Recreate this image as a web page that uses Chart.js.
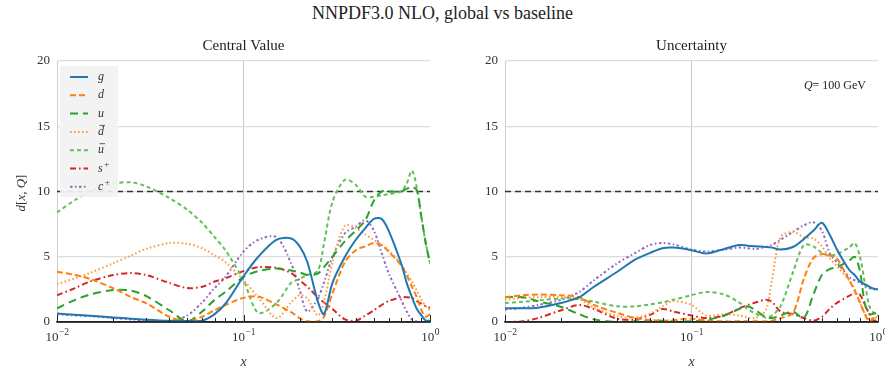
<!DOCTYPE html>
<html>
<head>
<meta charset="utf-8">
<script src="https://cdn.jsdelivr.net/npm/chart.js@4.4.1/dist/chart.umd.min.js"></script>
<style>
  html, body { margin: 0; padding: 0; background: #fff; }
  #wrap { position: relative; width: 885px; height: 374px; overflow: hidden; }
  #title { position: absolute; left: 0; top: 0; width: 885px; text-align: center;
           font: 18px "Liberation Serif", serif; color: #222; line-height: 26px; }
  canvas { position: absolute; top: 30px; }
  #cvL { left: 0; }
  #cvR { left: 445px; }
</style>
</head>
<body>
<div id="wrap">
  <div id="title">NNPDF3.0 NLO, global vs baseline</div>
  <canvas id="cvL" width="445" height="344"></canvas>
  <canvas id="cvR" width="440" height="344"></canvas>
</div>
<script>
// x grid shared by every curve
const X = [0.01, 0.0125, 0.015, 0.02, 0.025, 0.03, 0.04, 0.05, 0.06, 0.07, 0.08, 0.1, 0.12, 0.15, 0.18,
           0.2, 0.22, 0.25, 0.27, 0.3, 0.35, 0.4, 0.45, 0.5, 0.55, 0.6, 0.7, 0.75, 0.8, 0.85, 0.9, 0.95, 1.0];

// legend names; "bar" flavours get an overline
const FLAVOURS = ['g', 'd', 'u', 'd', 'u', 's', 'c'];
const FLAV_BAR = [false, false, false, true, true, false, false];
const FLAV_SUP = ['', '', '', '', '', '+', '+'];

// Central value distances
const cvG    = [0.65,0.55,0.48,0.35,0.25,0.18,0.1,0.08,0.1,0.6,1.4,3.5,5.0,6.3,6.4,5.8,4.6,1.6,0.6,3.0,5.0,6.3,7.2,7.9,7.9,7.0,4.5,3.0,1.9,1.0,0.5,0.1,0.1];
const cvD    = [3.85,3.6,3.3,2.6,1.9,1.45,0.4,0.05,0.4,0.9,1.3,1.85,1.95,1.35,0.75,0.3,0.05,0.05,0.4,2.2,4.6,5.5,5.8,6.05,5.9,5.4,4.35,3.6,2.7,1.9,0.9,0.4,0.6];
const cvU    = [1.05,1.7,2.1,2.45,2.4,2.0,0.9,0.05,0.8,1.7,2.3,3.45,3.9,4.1,3.95,3.8,3.6,3.7,4.2,5.0,6.2,7.0,7.8,9.3,10.0,10.0,10.0,10.2,10.35,10.1,8.0,6.0,4.5];
const cvDbar = [2.9,3.35,3.75,4.5,5.1,5.6,6.05,6.0,5.65,5.1,4.6,3.2,1.9,0.3,1.5,2.05,1.8,0.5,1.5,4.6,7.4,7.2,6.7,6.3,5.9,5.5,4.4,3.7,3.1,2.4,1.7,1.2,0.9];
const cvUbar = [8.4,9.35,10.0,10.6,10.7,10.4,9.5,8.6,7.6,6.5,5.5,3.2,0.7,1.45,3.0,3.3,3.6,3.9,6.0,9.2,10.9,10.5,9.6,9.6,9.7,9.8,10.0,10.6,11.6,10.3,8.0,6.0,4.5];
const cvS    = [2.05,2.6,3.1,3.6,3.75,3.6,3.0,2.6,2.7,3.1,3.35,3.9,4.2,4.15,3.75,3.2,2.7,1.9,1.5,1.0,0.2,0.1,0.5,0.9,1.3,1.6,1.9,1.9,1.85,1.6,1.4,1.2,1.1];
const cvC    = [0.6,0.5,0.45,0.3,0.2,0.1,0.05,0.5,1.5,2.6,3.45,5.4,6.3,6.5,4.5,2.45,0.8,1.8,3.0,5.0,6.8,7.3,7.8,7.0,5.3,3.75,1.7,0.8,0.2,0.05,0,0,0];

// Uncertainty distances
const unG    = [1.05,1.05,1.1,1.45,1.9,2.7,3.85,4.8,5.3,5.65,5.7,5.5,5.25,5.6,5.9,5.85,5.8,5.75,5.7,5.55,5.75,6.35,7.0,7.6,6.7,5.6,4.0,3.6,3.1,2.9,2.7,2.55,2.5];
const unD    = [1.9,2.05,2.1,2.05,1.9,1.3,0.7,0.3,0.15,0.1,0.15,0.25,0.1,0.05,0.05,0.05,0.05,0.05,0.1,0.3,0.7,3.3,4.9,5.2,5.1,4.9,3.2,2.4,1.5,0.6,0.05,0.3,0.5];
const unU    = [1.9,1.9,1.6,1.15,0.6,0.2,0.0,0.05,0.1,0.1,0.05,0.05,0.15,0.5,1.0,1.2,0.9,0.4,0.3,0.5,0.8,0.3,2.1,3.6,4.05,4.2,4.7,5.0,3.9,1.4,0.6,0.65,0.7];
const unDbar = [1.7,1.85,1.9,1.9,1.75,1.1,0.45,0.35,0.65,1.2,1.6,1.3,0.5,0.6,0.5,0.35,0.3,0.9,3.2,6.5,6.9,6.5,6.4,5.8,4.9,4.3,3.2,2.5,1.5,0.65,0.2,0.3,0.4];
const unUbar = [1.45,1.55,1.65,1.8,1.75,1.55,1.2,1.2,1.35,1.5,1.7,2.05,2.3,2.1,1.5,1.0,0.65,0.35,0.5,1.2,3.8,5.9,5.8,5.3,5.1,5.2,5.7,6.05,5.0,3.0,1.2,0.7,0.7];
const unS    = [0,0.05,0.3,0.9,1.3,1.0,0.25,0.2,0.55,1.0,0.8,0.5,0.3,0.5,1.05,1.3,1.5,1.7,1.55,0.8,0.6,0.3,0.1,0.4,1.0,1.45,2.0,2.2,2.1,1.3,0.6,0.1,0.2];
const unC    = [0.95,1.1,1.3,1.7,2.3,3.2,4.5,5.3,5.9,6.05,5.95,5.55,5.4,5.55,5.7,5.65,5.6,5.75,5.9,6.3,6.9,7.4,7.65,7.0,5.3,4.6,3.45,3.2,3.0,2.8,2.6,2.5,2.5];

const REF_LEVEL = 10;
const X_MAJOR = [0.01, 0.1, 1];
const X_MAJOR_EXP = ['−2', '−1', '0'];
const Y_TICKS_STEP = 5;

const SERIF = '"Liberation Serif", "DejaVu Serif", serif';
const STYLES = [
  { color: '#1f77b4', dash: [] },
  { color: '#ff7f0e', dash: [6, 3] },
  { color: '#2ca02c', dash: [8, 5] },
  { color: '#ff9a40', dash: [1.6, 2.4] },
  { color: '#64bf5a', dash: [4, 3] },
  { color: '#d62728', dash: [6, 3, 1.6, 3] },
  { color: '#9467bd', dash: [2.5, 2.5, 1.5, 2.5] }
];

function toPts(vals) {
  return X.map((x, i) => ({ x: x, y: vals[i] }));
}

function buildDatasets(series) {
  const ds = series.map((vals, i) => ({
    label: FLAVOURS[i],
    flavIdx: i,
    data: toPts(vals),
    borderColor: STYLES[i].color,
    borderDash: STYLES[i].dash,
    borderWidth: 2,
    pointRadius: 0,
    fill: false,
    tension: 0.3
  }));
  ds.push({
    label: 'ref',
    isRef: true,
    data: [{ x: X[0], y: REF_LEVEL }, { x: X[X.length - 1], y: REF_LEVEL }],
    borderColor: '#333',
    borderDash: [6, 4],
    borderWidth: 1.3,
    pointRadius: 0,
    order: 10
  });
  return ds;
}

// draw text made of [string, italic] pieces starting at x
function drawParts(ctx, parts, x, y, size) {
  let cx = x;
  parts.forEach(([s, it]) => {
    ctx.font = (it ? 'italic ' : '') + size + 'px ' + SERIF;
    ctx.fillText(s, cx, y);
    cx += ctx.measureText(s).width;
  });
}
function partsWidth(ctx, parts, size) {
  let w = 0;
  parts.forEach(([s, it]) => {
    ctx.font = (it ? 'italic ' : '') + size + 'px ' + SERIF;
    w += ctx.measureText(s).width;
  });
  return w;
}

const decor = {
  id: 'decor',
  afterDatasetsDraw(chart, args, opts) {
    if (!opts.legend) return;
    const ctx = chart.ctx;
    ctx.save();
    ctx.fillStyle = 'rgba(242,242,242,0.92)';
    ctx.fillRect(60, 36, 58, 131);
    chart.data.datasets.forEach((d, i) => {
      if (d.isRef) return;
      const y = 47 + i * 18.3;
      ctx.beginPath();
      ctx.setLineDash(d.borderDash);
      ctx.strokeStyle = d.borderColor;
      ctx.lineWidth = 2;
      ctx.moveTo(70, y);
      ctx.lineTo(88, y);
      ctx.stroke();
      ctx.setLineDash([]);
      ctx.fillStyle = '#333';
      ctx.font = 'italic 12px ' + SERIF;
      ctx.textAlign = 'left';
      ctx.textBaseline = 'middle';
      ctx.fillText(d.label, 98, y);
      const w = ctx.measureText(d.label).width;
      if (FLAV_BAR[d.flavIdx]) {
        ctx.strokeStyle = '#333';
        ctx.lineWidth = 0.8;
        ctx.beginPath();
        ctx.moveTo(99.5, y - 6.5);
        ctx.lineTo(99.5 + w - 0.5, y - 6.5);
        ctx.stroke();
      }
      if (FLAV_SUP[d.flavIdx]) {
        ctx.font = '9px ' + SERIF;
        ctx.fillText(FLAV_SUP[d.flavIdx], 98 + w + 1.5, y - 4);
      }
    });
    ctx.restore();
  },
  afterDraw(chart, args, opts) {
    const ctx = chart.ctx;
    const area = chart.chartArea;
    const xs = chart.scales.x;
    const midX = (area.left + area.right) / 2;
    ctx.save();

    // bottom axis + ticks
    ctx.strokeStyle = '#222';
    ctx.lineWidth = 1.4;
    ctx.beginPath();
    ctx.moveTo(area.left, area.bottom);
    ctx.lineTo(area.right, area.bottom);
    ctx.stroke();
    ctx.lineWidth = 1;
    for (let k = 0; k < X_MAJOR.length - 1; k++) {
      for (let m = 2; m <= 9; m++) {
        const px = Math.round(xs.getPixelForValue(X_MAJOR[k] * m)) + 0.5;
        ctx.beginPath();
        ctx.moveTo(px, area.bottom);
        ctx.lineTo(px, area.bottom - 4);
        ctx.stroke();
      }
    }
    X_MAJOR.forEach(v => {
      const px = Math.round(xs.getPixelForValue(v)) + 0.5;
      ctx.beginPath();
      ctx.moveTo(px, area.bottom);
      ctx.lineTo(px, area.bottom - 7);
      ctx.stroke();
    });

    // tick labels 10^n
    ctx.fillStyle = '#333';
    ctx.textBaseline = 'alphabetic';
    ctx.textAlign = 'left';
    X_MAJOR.forEach((v, k) => {
      const px = xs.getPixelForValue(v);
      ctx.font = '13px ' + SERIF;
      const w1 = ctx.measureText('10').width;
      ctx.font = '9.5px ' + SERIF;
      const w2 = ctx.measureText(X_MAJOR_EXP[k]).width;
      const x0 = px - (w1 + w2) / 2;
      ctx.font = '13px ' + SERIF;
      ctx.fillText('10', x0, area.bottom + 19);
      ctx.font = '9.5px ' + SERIF;
      ctx.fillText(X_MAJOR_EXP[k], x0 + w1 + 0.5, area.bottom + 13);
    });

    // axis label x
    ctx.textAlign = 'center';
    ctx.textBaseline = 'middle';
    ctx.font = 'italic 14px ' + SERIF;
    ctx.fillText('x', midX, area.bottom + 40);

    // panel title
    ctx.font = '15px ' + SERIF;
    ctx.fillStyle = '#222';
    ctx.fillText(opts.title, midX, 16);

    if (opts.ylabel) {
      const parts = [['d', true], ['[', false], ['x', true], [', ', false], ['Q', true], [']', false]];
      ctx.translate(22, 163);
      ctx.rotate(-Math.PI / 2);
      const w = partsWidth(ctx, parts, 13);
      ctx.textAlign = 'left';
      ctx.fillStyle = '#333';
      drawParts(ctx, parts, -w / 2, 0, 13);
      ctx.setTransform(1, 0, 0, 1, 0, 0);
    }
    if (opts.note) {
      const parts = [['Q', true], ['= 100 GeV', false]];
      const w = partsWidth(ctx, parts, 12);
      ctx.textAlign = 'left';
      ctx.fillStyle = '#222';
      drawParts(ctx, parts, area.right - 12 - w, area.top + 25, 12);
    }
    ctx.restore();
  }
};

function makeChart(id, series, yWidth, padRight, opts) {
  return new Chart(document.getElementById(id), {
    type: 'line',
    plugins: [decor],
    data: { datasets: buildDatasets(series) },
    options: {
      responsive: false,
      animation: false,
      devicePixelRatio: 1,
      layout: { padding: { top: 31, right: padRight, left: 0, bottom: 0 } },
      plugins: {
        legend: { display: false },
        tooltip: { enabled: false },
        decor: opts
      },
      scales: {
        x: {
          type: 'logarithmic',
          min: 0.01,
          max: 1,
          afterFit: s => { s.height = 52; },
          ticks: { display: false },
          grid: {
            drawTicks: false,
            color: c => (c.tick && Math.abs(Math.log10(c.tick.value) + 1) < 1e-6) ? '#c8c8c8' : 'rgba(0,0,0,0)',
            lineWidth: 1
          },
          border: { color: '#222', width: 1.4 }
        },
        y: {
          min: 0,
          max: 20,
          afterFit: s => { s.width = yWidth; },
          ticks: {
            stepSize: Y_TICKS_STEP,
            padding: 7,
            color: '#333',
            font: { family: SERIF, size: 13 }
          },
          grid: {
            drawTicks: false,
            color: c => (c.tick && c.tick.value === 0) ? 'rgba(0,0,0,0)' : '#dcdcdc',
            lineWidth: 1.2
          },
          border: { color: '#d0d0d0', width: 1 }
        }
      }
    }
  });
}

makeChart('cvL', [cvG, cvD, cvU, cvDbar, cvUbar, cvS, cvC], 57, 15,
  { title: 'Central Value', ylabel: true, legend: true, note: false });
makeChart('cvR', [unG, unD, unU, unDbar, unUbar, unS, unC], 60, 7,
  { title: 'Uncertainty', ylabel: false, legend: false, note: true });
</script>
</body>
</html>
